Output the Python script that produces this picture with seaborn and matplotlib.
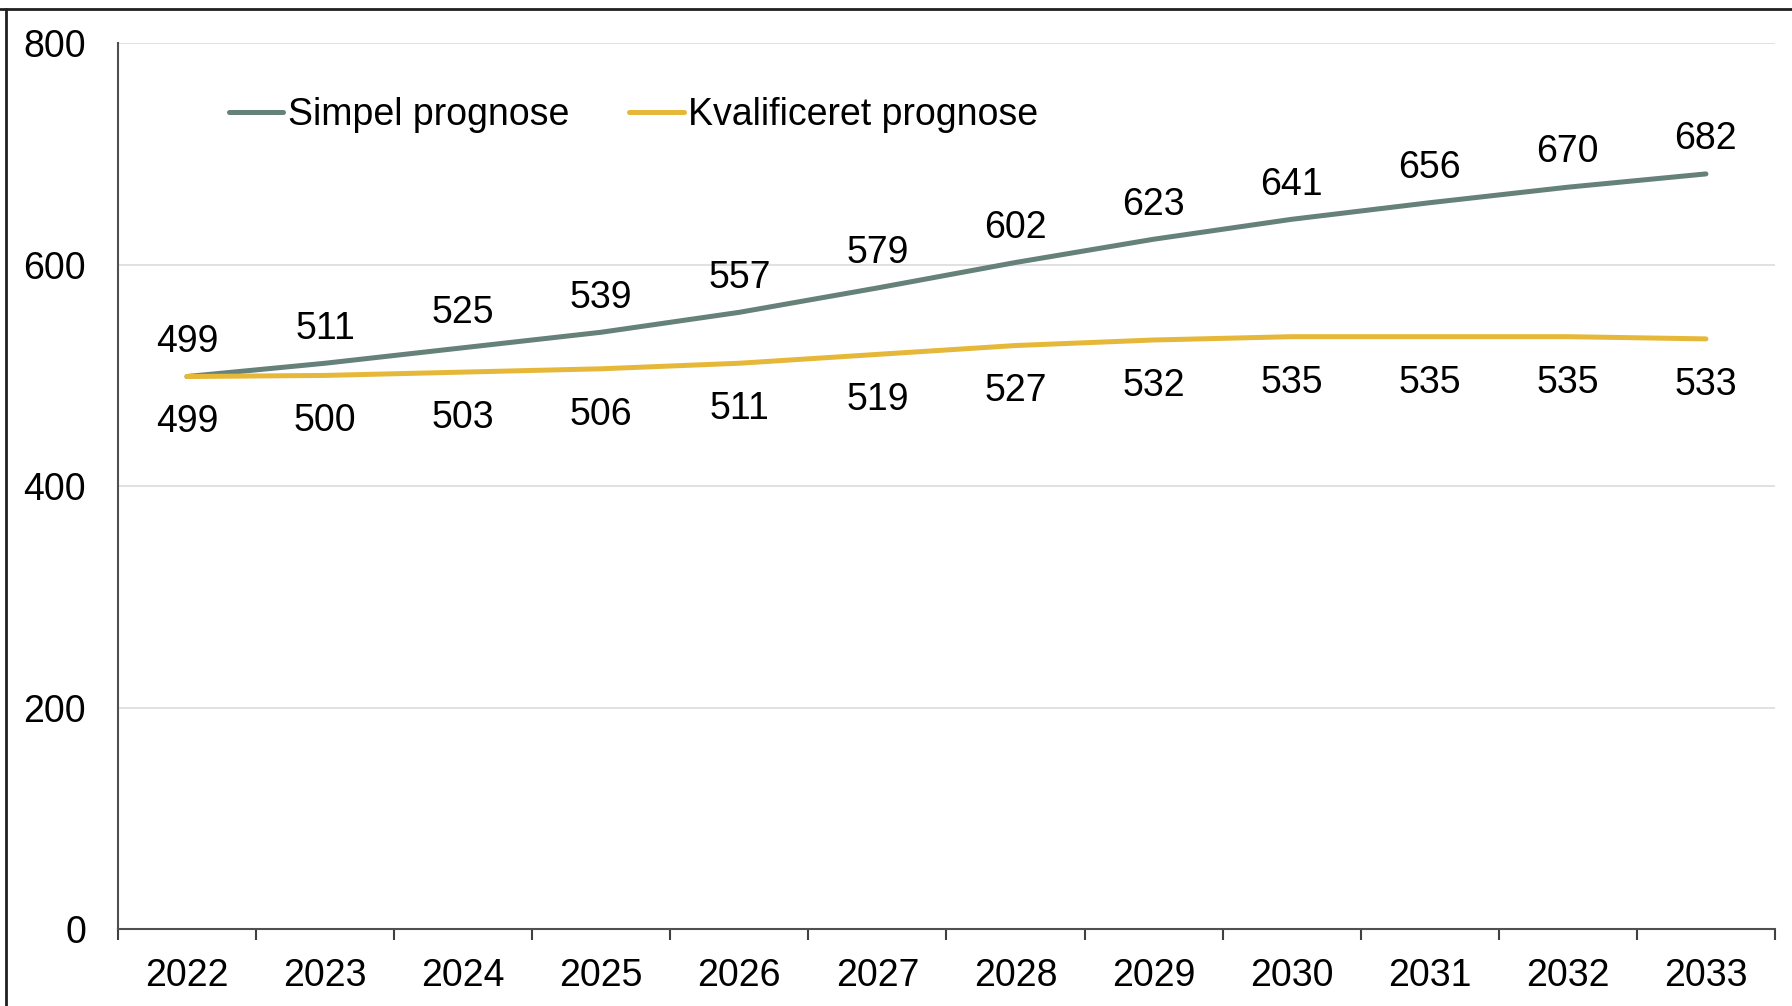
import matplotlib
matplotlib.use("Agg")
import matplotlib.pyplot as plt
from matplotlib.lines import Line2D
import seaborn as sns
import pandas as pd
import numpy as np

years = [2022, 2023, 2024, 2025, 2026, 2027, 2028, 2029, 2030, 2031, 2032, 2033]
simpel = [499, 511, 525, 539, 557, 579, 602, 623, 641, 656, 670, 682]
kvalificeret = [499, 500, 503, 506, 511, 519, 527, 532, 535, 535, 535, 533]
series_names = ["Simpel prognose", "Kvalificeret prognose"]
colors = ["#66807a", "#e6b83a"]
y_ticks = [0, 200, 400, 600, 800]

sns.set_theme(style="white")
plt.rcParams["font.family"] = ["Liberation Sans", "DejaVu Sans"]
plt.rcParams["text.color"] = "black"

pos = list(range(len(years)))
df = pd.DataFrame({
    "pos": pos * 2,
    "value": simpel + kvalificeret,
    "series": [series_names[0]] * len(years) + [series_names[1]] * len(years),
})

fig = plt.figure(figsize=(17.92, 10.06), dpi=100)
ax = fig.add_axes([0.0658, 0.0765, 0.9247, 0.8805])

sns.lineplot(data=df, x="pos", y="value", hue="series", palette=colors,
             linewidth=3.6, ax=ax, legend=False, solid_capstyle="round")

fs = 27
for i, v in enumerate(simpel):
    ax.annotate(str(v), (i, v), xytext=(0, 25), textcoords="offset points",
                ha="center", va="center", fontsize=fs, color="black")
for i, v in enumerate(kvalificeret):
    ax.annotate(str(v), (i, v), xytext=(0, -33), textcoords="offset points",
                ha="center", va="center", fontsize=fs, color="black")

ax.set_xlim(-0.5, len(years) - 0.5)
ax.set_ylim(0, 800)
ax.set_yticks(y_ticks)
ax.set_yticklabels([str(t) for t in y_ticks], fontsize=fs, color="black")
ax.set_xticks(pos)
ax.set_xticklabels([str(y) for y in years], fontsize=fs, color="black")
ax.set_xticks(np.arange(-0.5, len(years), 1.0), minor=True)
ax.tick_params(axis="x", which="major", length=0, pad=21)
ax.tick_params(axis="x", which="minor", length=8, width=1.5, color="#404040", direction="out", bottom=True)
ax.tick_params(axis="y", length=0, pad=23)
ax.set_xlabel("")
ax.set_ylabel("")
ax.grid(axis="y", color="#dcdcdc", linewidth=1.2)
ax.grid(axis="x", visible=False)
for s in ["top", "right"]:
    ax.spines[s].set_visible(False)
for s in ["left", "bottom"]:
    ax.spines[s].set_color("#505050")
    ax.spines[s].set_linewidth(1.5)

handles = [Line2D([0], [0], color=c, linewidth=3.6, solid_capstyle="round") for c in colors]
leg = ax.legend(handles, series_names, loc="upper left", bbox_to_anchor=(0.058, 0.956),
                ncol=2, frameon=False, fontsize=fs, handlelength=1.45, handletextpad=0.12,
                columnspacing=1.6, borderaxespad=0)
for t in leg.get_texts():
    t.set_color("black")

# outer frame (top and left)
fig.add_artist(Line2D([0.0, 1.0], [1 - 9 / 1006, 1 - 9 / 1006], transform=fig.transFigure,
                      color="#202020", linewidth=2))
fig.add_artist(Line2D([6 / 1792, 6 / 1792], [0, 1 - 9 / 1006], transform=fig.transFigure,
                      color="#202020", linewidth=2))

fig.savefig("out.png", dpi=100)
